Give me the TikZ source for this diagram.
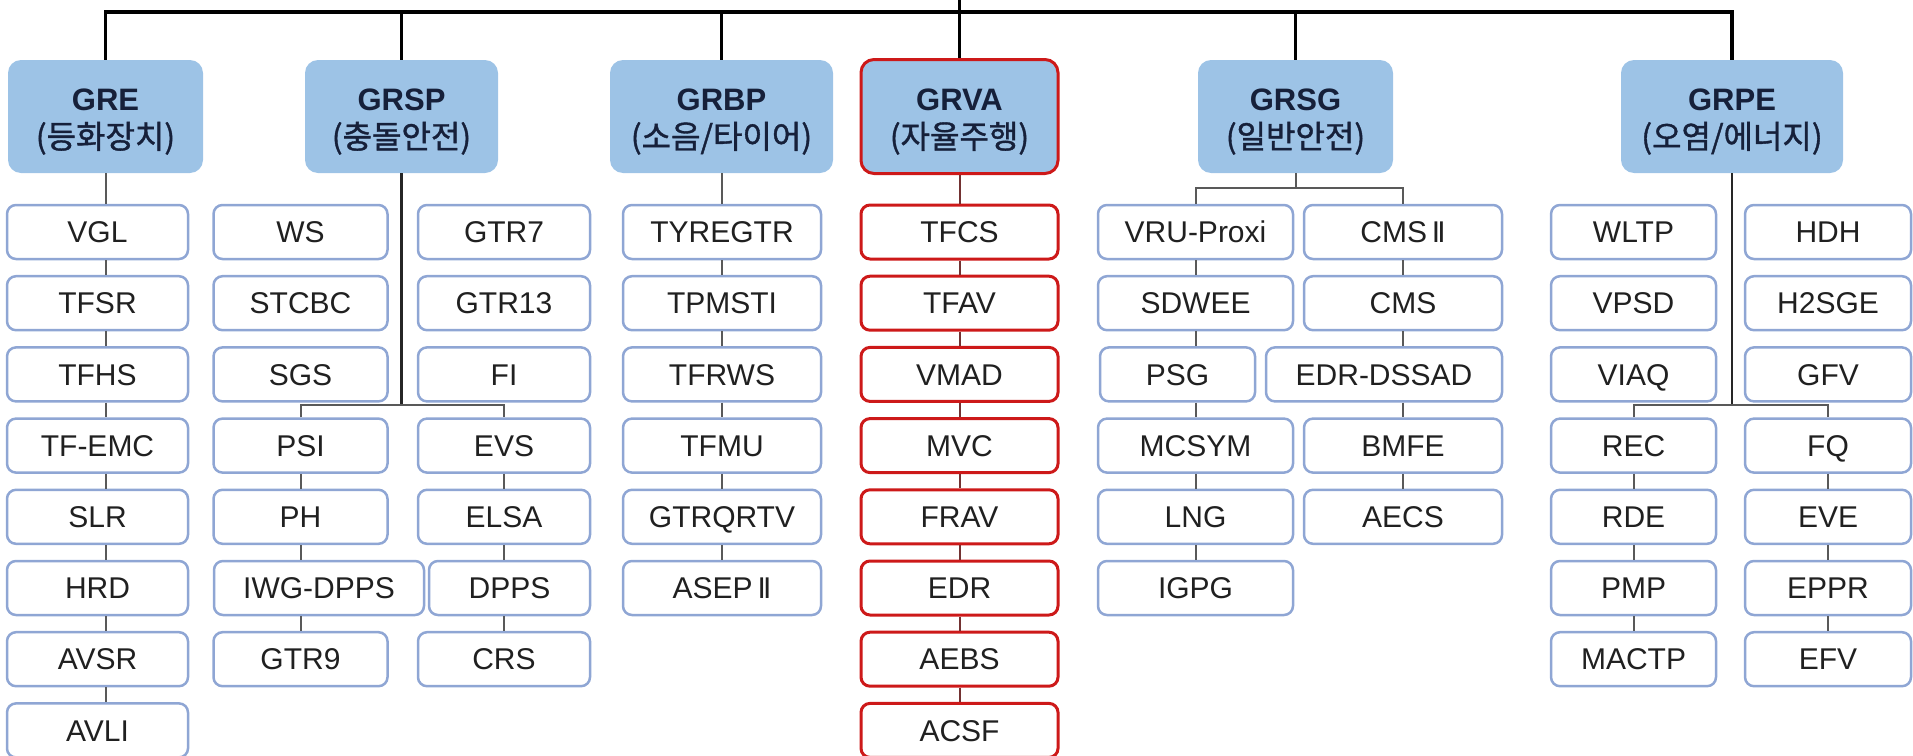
\documentclass[tikz,border=0pt]{standalone}
\usepackage{fontspec}
\setmainfont{Liberation Sans}
\newfontfamily\kr{Noto Sans CJK KR}[FakeBold=1.2]
\usepackage{tikz}
\usetikzlibrary{positioning}
\definecolor{grpblue}{RGB}{157,195,230}
\definecolor{grptext}{RGB}{22,32,58}
\definecolor{regline}{RGB}{143,166,212}
\definecolor{regtext}{RGB}{32,32,32}
\definecolor{avred}{RGB}{205,25,25}
\definecolor{avlinkc}{RGB}{115,50,50}

\tikzset{
  grp/.style={rounded corners=13pt, fill=grpblue, text=grptext, minimum height=113pt,
    inner sep=0pt, align=center, font=\fontsize{31}{38}\selectfont},
  reg/.style={rounded corners=9pt, draw=regline, line width=2.5pt, fill=white, text=regtext,
    minimum height=54pt, inner sep=0pt, text height=21.5pt, text depth=0pt,
    font=\fontsize{30}{36}\selectfont},
  regav/.style={reg, draw=avred, line width=3pt},
  trunk/.style={line width=3.5pt, black},
  stem/.style={line width=2.5pt, black!85},
  link/.style={line width=2pt, black!65},
  avlink/.style={line width=2pt, avlinkc},
}
\newcommand{\two}{I\kern-3pt I}
\newcommand{\kor}[1]{{\kr\fontsize{32}{38}\selectfont #1}}

\begin{document}
\begin{tikzpicture}[x=1pt, y=-1pt]
  \useasboundingbox (0,0) rectangle (1913,755);
  % working parties
  \node[grp, minimum width=195pt] (GRE) at (105.5,116.5) {\rule{0pt}{32pt}\textbf{GRE}\\\kor{(등화장치)}};
  \node[grp, minimum width=193pt] (GRSP) at (401.5,116.5) {\rule{0pt}{32pt}\textbf{GRSP}\\\kor{(충돌안전)}};
  \node[grp, minimum width=223pt] (GRBP) at (721.5,116.5) {\rule{0pt}{32pt}\textbf{GRBP}\\\kor{(소음/타이어)}};
  \node[grp, minimum width=197pt, minimum height=114pt, draw=avred, line width=3pt] (GRVA) at (959.5,116.5) {\rule{0pt}{32pt}\textbf{GRVA}\\\kor{(자율주행)}};
  \node[grp, minimum width=195pt] (GRSG) at (1295.5,116.5) {\rule{0pt}{32pt}\textbf{GRSG}\\\kor{(일반안전)}};
  \node[grp, minimum width=222pt] (GRPE) at (1732,116.5) {\rule{0pt}{32pt}\textbf{GRPE}\\\kor{(오염/에너지)}};

  % top bar
  \coordinate (root) at (959.5,0);
  \coordinate (bar) at (959.5,12);
  \draw[trunk] (GRE.north) |- (bar) -| (GRPE.north);
  \draw[trunk] (root) -- (GRVA.north);
  \foreach \g in {GRSP,GRBP,GRSG}
    \draw[trunk] (\g.north) -- (\g.north |- bar);

  % GRE
  \foreach \nm [count=\i] in {VGL,TFSR,TFHS,TF-EMC,SLR,HRD,AVSR,AVLI}
    \node[reg, minimum width=181pt] (gre\i) at (97.5,{232+71.2*(\i-1)}) {\nm};
  \draw[link] (GRE.south) -- (GRE.south |- gre1.north);
  \foreach \i [count=\j] in {2,...,8}
    \draw[link] (gre\j.south -| GRE.south) -- (gre\i.north -| GRE.south);

  % GRSP
  \foreach \nm/\cx/\w [count=\i] in {WS/300.5/174, STCBC/300.5/174, SGS/300.5/174, PSI/300.5/174,
      PH/300.5/174, IWG-DPPS/319/210, GTR9/300.5/174}
    \node[reg, minimum width=\w] (spl\i) at (\cx,{232+71.2*(\i-1)}) {\nm};
  \foreach \nm/\cx/\w [count=\i] in {GTR7/504/172, GTR13/504/172, FI/504/172, EVS/504/172,
      ELSA/504/172, DPPS/509.5/161, CRS/504/172}
    \node[reg, minimum width=\w] (spr\i) at (\cx,{232+71.2*(\i-1)}) {\nm};
  \coordinate (spbar) at (401.5,405);
  \draw[stem] (GRSP.south) -- (spbar);
  \draw[link] (spl4.north) |- (spbar) -| (spr4.north);
  \foreach \i [count=\j from 4] in {5,6,7} {
    \draw[link] (spl\j.south -| spl4.north) -- (spl\i.north -| spl4.north);
    \draw[link] (spr\j.south -| spr4.north) -- (spr\i.north -| spr4.north);
  }

  % GRBP
  \foreach \nm [count=\i] in {TYREGTR,TPMSTI,TFRWS,TFMU,GTRQRTV,ASEP\,\two}
    \node[reg, minimum width=198pt] (gb\i) at (722,{232+71.2*(\i-1)}) {\nm};
  \draw[link] (GRBP.south) -- (GRBP.south |- gb1.north);
  \foreach \i [count=\j] in {2,...,6}
    \draw[link] (gb\j.south) -- (gb\i.north);

  % GRVA
  \foreach \nm [count=\i] in {TFCS,TFAV,VMAD,MVC,FRAV,EDR,AEBS,ACSF}
    \node[regav, minimum width=197pt] (av\i) at (959.5,{232+71.2*(\i-1)}) {\nm};
  \draw[avlink] (GRVA.south) -- (av1.north);
  \foreach \i [count=\j] in {2,...,8}
    \draw[avlink] (av\j.south) -- (av\i.north);

  % GRSG
  \foreach \nm/\cx/\w [count=\i] in {VRU-Proxi/1195.5/195, SDWEE/1195.5/195, PSG/1177.5/155,
      MCSYM/1195.5/195, LNG/1195.5/195, IGPG/1195.5/195}
    \node[reg, minimum width=\w] (sgl\i) at (\cx,{232+71.2*(\i-1)}) {\nm};
  \foreach \nm/\cx/\w [count=\i] in {CMS\,\two/1403/198, CMS/1403/198, EDR-DSSAD/1384/236,
      BMFE/1403/198, AECS/1403/198}
    \node[reg, minimum width=\w] (sgr\i) at (\cx,{232+71.2*(\i-1)}) {\nm};
  \coordinate (sgbar) at (1295.5,188);
  \draw[link] (GRSG.south) -- (sgbar);
  \draw[link] (sgl1.north) |- (sgbar) -| (sgr1.north);
  \foreach \i [count=\j] in {2,...,6}
    \draw[link] (sgl\j.south -| sgl1.north) -- (sgl\i.north -| sgl1.north);
  \foreach \i [count=\j] in {2,...,5}
    \draw[link] (sgr\j.south -| sgr1.north) -- (sgr\i.north -| sgr1.north);

  % GRPE
  \foreach \nm [count=\i] in {WLTP,VPSD,VIAQ,REC,RDE,PMP,MACTP}
    \node[reg, minimum width=165pt] (pel\i) at (1633.5,{232+71.2*(\i-1)}) {\nm};
  \foreach \nm [count=\i] in {HDH,H2SGE,GFV,FQ,EVE,EPPR,EFV}
    \node[reg, minimum width=166pt] (per\i) at (1828,{232+71.2*(\i-1)}) {\nm};
  \coordinate (pebar) at (1732,405);
  \draw[stem] (GRPE.south) -- (pebar);
  \draw[link] (pel4.north) |- (pebar) -| (per4.north);
  \foreach \i [count=\j from 4] in {5,6,7} {
    \draw[link] (pel\j.south) -- (pel\i.north);
    \draw[link] (per\j.south) -- (per\i.north);
  }
\end{tikzpicture}
\end{document}
